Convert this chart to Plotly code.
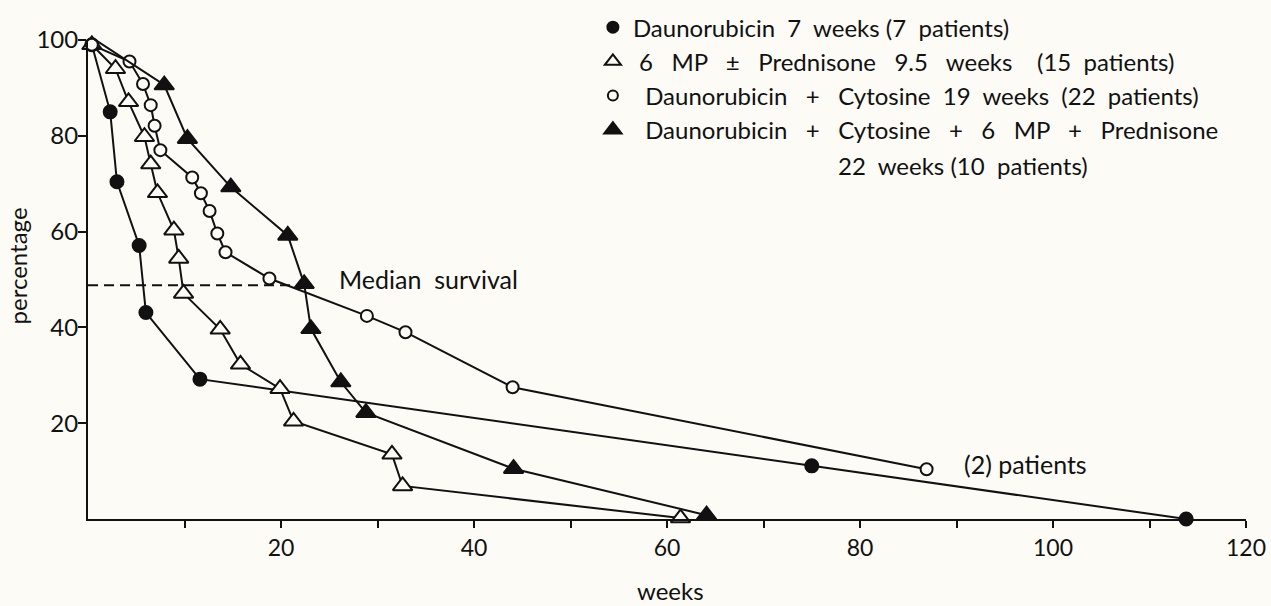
import plotly.graph_objects as go

# ---- data ----
daun_x = [0.4, 2.3, 3.0, 5.3, 6.0, 11.6, 75.0, 113.8]
daun_y = [99, 85, 70.4, 57.1, 43.1, 29.2, 11.1, 0]

mp_x = [0.4, 2.85, 4.2, 5.85, 6.5, 7.2, 8.9, 9.4, 9.9, 13.7, 15.8, 19.9, 21.3, 31.5, 32.6, 61.4]
mp_y = [99, 94.0, 87.1, 79.8, 74.1, 68.1, 60.3, 54.4, 47.1, 39.6, 32.3, 27.2, 20.4, 13.5, 6.9, 0.2]

cyt_x = [0.4, 4.3, 5.7, 6.5, 6.9, 7.5, 10.8, 11.7, 12.6, 13.4, 14.25, 18.8, 28.9, 32.9, 44.0, 86.9]
cyt_y = [99, 95.5, 90.8, 86.4, 82.1, 77.0, 71.3, 68.0, 64.3, 59.6, 55.7, 50.2, 42.4, 39.0, 27.5, 10.4]

comb_x = [0.4, 7.9, 10.3, 14.8, 20.7, 22.4, 23.1, 26.2, 28.8, 44.1, 64.1]
comb_y = [100.5, 90.6, 79.4, 69.3, 59.2, 49.1, 39.7, 28.6, 22.2, 10.5, 0.8]

median_x = [0, 23]
median_y = [48.8, 48.8]

S = "\u00a0"  # non-breaking space (keeps the wide word spacing of the original)
legend_names = [
    "Daunorubicin" + S*2 + "7" + S*2 + "weeks" + S + "(7" + S*2 + "patients)",
    S + "6" + S*3 + "MP" + S*3 + "\u00b1" + S*3 + "Prednisone" + S*3 + "9.5" + S*3 + "weeks"
    + S*4 + "(15" + S*2 + "patients)",
    S*2 + "Daunorubicin" + S*3 + "+" + S*3 + "Cytosine" + S*2 + "19" + S*2 + "weeks"
    + S*2 + "(22" + S*2 + "patients)",
    S*2 + "Daunorubicin" + S*3 + "+" + S*3 + "Cytosine" + S*3 + "+" + S*3 + "6" + S*3
    + "MP" + S*3 + "+" + S*3 + "Prednisone",
]
legend_line2 = "22" + S*2 + "weeks" + S + "(10" + S*2 + "patients)"

x_tickvals = [10, 20, 30, 40, 50, 60, 70, 80, 90, 100, 110, 120]
x_ticktext = ["", "20", "", "40", "", "60", "", "80", "", "100", "", "120"]
y_tickvals = [20, 40, 60, 80, 100]
y_ticktext = ["20", "40", "60", "80", "100"]

BG = "#fcfbf6"
INK = "#111111"
FONT = "Lato"

fig = go.Figure()

series = [
    (daun_x, daun_y, "circle", INK, 13),
    (mp_x, mp_y, "triangle-up", BG, 17),
    (cyt_x, cyt_y, "circle", BG, 12),
    (comb_x, comb_y, "triangle-up", INK, 17),
]
legend_sizes = [11, 14, 10, 15]

# median survival dashed line
fig.add_trace(go.Scatter(
    x=median_x, y=median_y, mode="lines",
    line=dict(color=INK, width=2, dash="10px,6px"),
    showlegend=False, hoverinfo="skip",
))

for (xs, ys, sym, fill, sz) in series:
    fig.add_trace(go.Scatter(
        x=xs, y=ys, mode="lines+markers",
        line=dict(color=INK, width=2),
        marker=dict(symbol=sym, size=sz, color=fill, line=dict(color=INK, width=2)),
        showlegend=False, cliponaxis=False,
    ))

for i, ((xs, ys, sym, fill, sz), name) in enumerate(zip(series, legend_names)):
    fig.add_trace(go.Scatter(
        x=[None], y=[None], mode="markers", name=name,
        legendgroup=f"g{i}",
        marker=dict(symbol=sym, size=legend_sizes[i], color=fill, line=dict(color=INK, width=2)),
    ))

fig.update_layout(
    width=1271, height=606,
    margin=dict(l=88, r=25, t=40, b=87, autoexpand=False),
    paper_bgcolor=BG, plot_bgcolor=BG,
    font=dict(family=FONT, size=24, color=INK),
    showlegend=True,
    legend=dict(
        x=0.436, y=1.073, xanchor="left", yanchor="top",
        bgcolor="rgba(0,0,0,0)", font=dict(size=24, family=FONT, color=INK),
        traceorder="grouped", tracegroupgap=0, itemsizing="trace",
    ),
    xaxis=dict(
        range=[0, 120], showgrid=False, zeroline=False,
        showline=True, linecolor=INK, linewidth=2,
        ticks="outside", ticklen=7, tickwidth=2, tickcolor=INK,
        tickvals=x_tickvals, ticktext=x_ticktext,
        tickfont=dict(size=23, family=FONT, color=INK),
    ),
    yaxis=dict(
        range=[0, 100], showgrid=False, zeroline=False,
        showline=True, linecolor=INK, linewidth=2,
        ticks="outside", ticklen=8, tickwidth=2, tickcolor=INK,
        tickvals=y_tickvals, ticktext=y_ticktext,
        tickfont=dict(size=24, family=FONT, color=INK),
        ticklabelstandoff=-5,
    ),
    annotations=[
        dict(text="Median" + S*2 + "survival", x=35.3, y=50.1, xref="x", yref="y",
             showarrow=False, font=dict(size=25)),
        dict(text="(2)" + S + "patients", x=97.2, y=11.4, xref="x", yref="y",
             showarrow=False, font=dict(size=25)),
        dict(text="weeks", x=0.5026, y=-0.149, xref="paper", yref="paper",
             showarrow=False, font=dict(size=24), xanchor="center", yanchor="middle"),
        dict(text="percentage", x=-0.061, y=0.528, xref="paper", yref="paper",
             showarrow=False, font=dict(size=24), textangle=-90,
             xanchor="center", yanchor="middle"),
        dict(text=legend_line2, x=0.646, y=0.739, xref="paper", yref="paper",
             xanchor="left", yanchor="middle", showarrow=False, font=dict(size=24)),
    ],
)

fig.write_html("out.html", config={"displayModeBar": False},
               post_script="document.body.style.margin='0px';")
